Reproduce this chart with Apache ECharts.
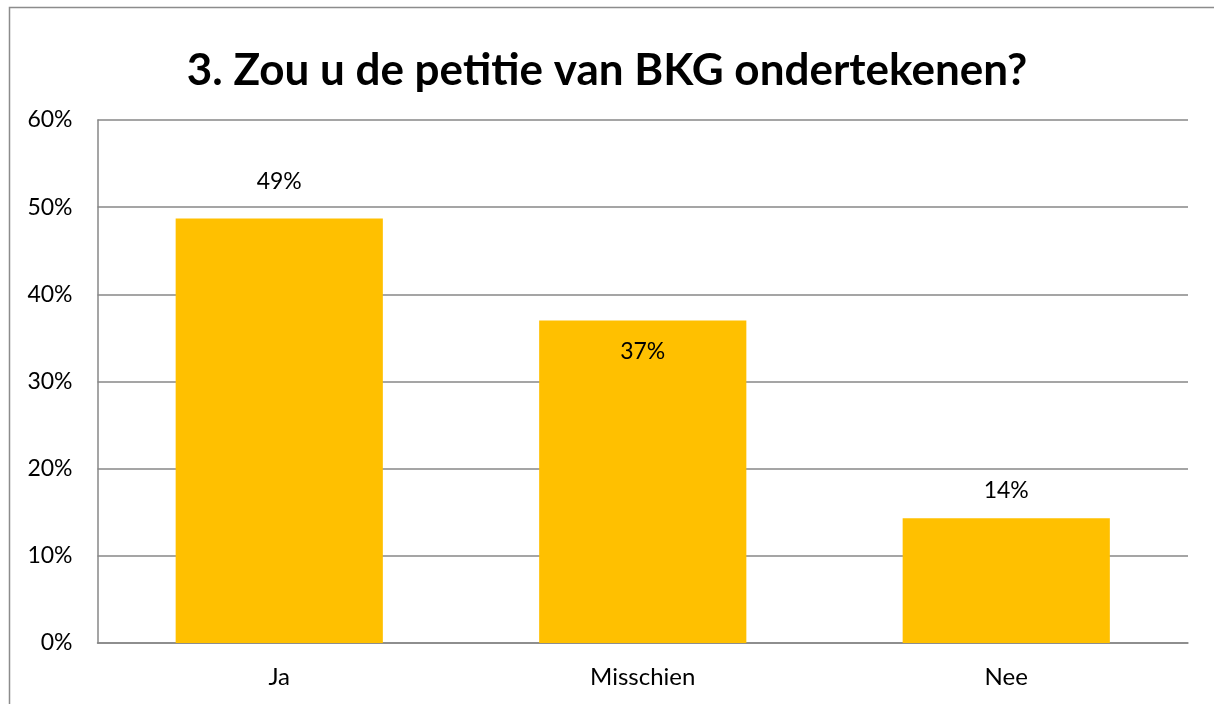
<!DOCTYPE html>
<html><head><meta charset="utf-8">
<script src="https://cdn.jsdelivr.net/npm/echarts@6/dist/echarts.min.js"></script>
<style>html,body{margin:0;padding:0;background:#fff}#c{width:1214px;height:704px}</style>
</head><body><div id="c"></div>
<script>
const titleText = '3. Zou u de petitie van BKG ondertekenen?';
const categories = ['Ja', 'Misschien', 'Nee'];
const values = [48.7, 37.0, 14.3];
const labelTexts = ['49%', '37%', '14%'];
const yTicks = [0, 10, 20, 30, 40, 50, 60];

const labelCfg = [
  {position: 'top', distance: 25},
  {position: 'insideTop', distance: 20},
  {position: 'top', distance: 16}
];
const chart = echarts.init(document.getElementById('c'), null, {renderer: 'canvas'});
const FONT = 'Lato, "Open Sans", sans-serif';
chart.setOption({
  animation: false,
  backgroundColor: '#fff',
  graphic: [{type: 'rect', shape: {x: 9.5, y: 7.5, width: 1220, height: 720}, style: {fill: 'none', stroke: '#8c8c8c', lineWidth: 1.5}, silent: true}],
  title: {text: titleText, left: 'center', top: 44, textStyle: {fontFamily: FONT, fontWeight: 'bold', fontSize: 44, color: '#000'}},
  grid: {left: 97.5, right: 26, top: 120, bottom: 61, containLabel: false},
  xAxis: {type: 'category', data: categories,
    axisLine: {lineStyle: {color: '#878787', width: 1.5}}, axisTick: {show: false},
    axisLabel: {fontFamily: FONT, fontSize: 24, color: '#000', margin: 22}},
  yAxis: {type: 'value', min: 0, max: 60, interval: 10,
    axisLine: {show: true, lineStyle: {color: '#878787', width: 1.5}}, axisTick: {show: false},
    splitLine: {lineStyle: {color: '#878787', width: 1.5}},
    axisLabel: {fontFamily: FONT, fontSize: 23, color: '#000', margin: 25, formatter: v => v + '%'}},
  series: [{type: 'bar', barWidth: '57%',
    data: values.map((v, i) => ({value: v, label: {show: true, position: labelCfg[i].position, distance: labelCfg[i].distance, formatter: labelTexts[i]}})),
    itemStyle: {color: '#FFC000'},
    label: {show: true, fontFamily: FONT, fontSize: 23, color: '#000'}}]
});
</script></body></html>
